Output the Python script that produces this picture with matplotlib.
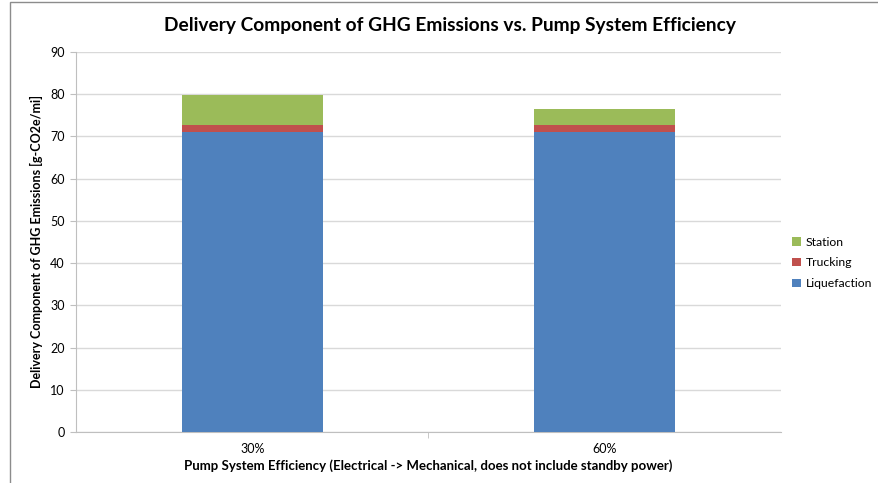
import numpy as np
import matplotlib.pyplot as plt
from matplotlib.patches import Rectangle

efficiency = ['30%', '60%']
liquefaction = [71.0, 71.0]
trucking = [1.7, 1.7]
station = [7.1, 3.8]

colors = {'Liquefaction': '#4f81bd', 'Trucking': '#c0504d', 'Station': '#9bbb59'}

plt.rcParams['font.family'] = ['Lato', 'DejaVu Sans']

fig = plt.figure(figsize=(8.79, 4.83), dpi=100)
ax = fig.add_axes([76 / 879, 1 - 432 / 483, (781 - 76) / 879, (432 - 52) / 483])

# chart frame, partly cut off on the right and bottom
fig.patches.append(Rectangle((10 / 879, -0.1), 1.2, 1 - 2 / 483 + 0.1,
                             transform=fig.transFigure, fill=False,
                             edgecolor='#8c8c8c', linewidth=1))

x = np.arange(len(efficiency))
w = 0.4
ax.bar(x, liquefaction, w, color=colors['Liquefaction'], label='Liquefaction', zorder=3)
ax.bar(x, trucking, w, bottom=liquefaction, color=colors['Trucking'],
       label='Trucking', zorder=3)
ax.bar(x, station, w, bottom=np.add(liquefaction, trucking),
       color=colors['Station'], label='Station', zorder=3)

ax.set_xlim(-0.5, 1.5)
ax.set_ylim(0, 90)
ax.set_yticks(range(0, 91, 10))
ax.yaxis.grid(True, color='#d9d9d9', linewidth=1, zorder=0)
ax.set_xticks(x)
ax.set_xticklabels(efficiency)
ax.set_xticks([0.5], minor=True)
ax.tick_params(axis='x', which='major', length=0, pad=8, labelsize=9)
ax.tick_params(axis='x', which='minor', length=4, color='#bfbfbf')
ax.tick_params(axis='y', length=4, color='#bfbfbf', labelsize=9, pad=4)

for side in ['top', 'right']:
    ax.spines[side].set_visible(False)
for side in ['left', 'bottom']:
    ax.spines[side].set_color('#bfbfbf')

fig.text(450 / 879, 1 - 26 / 483,
         'Delivery Component of GHG Emissions vs. Pump System Efficiency',
         fontsize=13.8, fontweight='bold', ha='center', va='center')
ax.set_xlabel('Pump System Efficiency (Electrical -> Mechanical, does not include standby power)',
              fontsize=9.5, fontweight='bold', labelpad=3)
ax.set_ylabel('Delivery Component of GHG Emissions [g-CO2e/mi]',
              fontsize=9, fontweight='bold', labelpad=5)

handles, labels = ax.get_legend_handles_labels()
ax.legend(handles[::-1], labels[::-1], loc='center left', bbox_to_anchor=(1.0, 0.445),
          frameon=False, fontsize=8.8, handlelength=0.7, handleheight=0.7,
          handletextpad=0.45, labelspacing=0.8)

fig.savefig('out.png', dpi=100)
